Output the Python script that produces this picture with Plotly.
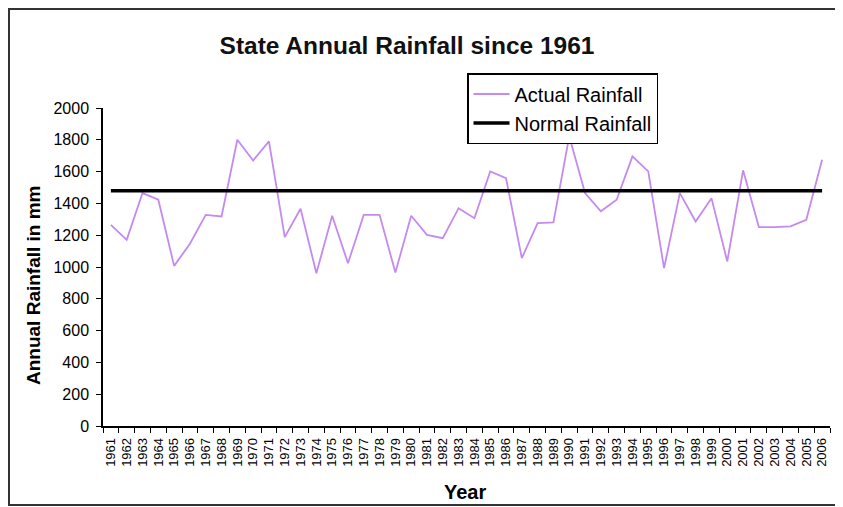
import plotly.graph_objects as go

years = [str(y) for y in range(1961, 2007)]
actual_rainfall = [1265, 1171, 1465, 1423, 1007, 1146, 1328, 1318, 1800, 1670,
                   1790, 1188, 1366, 961, 1322, 1024, 1328, 1328, 965, 1322,
                   1202, 1181, 1370, 1307, 1601, 1559, 1056, 1276, 1280, 1822,
                   1465, 1350, 1423, 1696, 1601, 993, 1465, 1286, 1433, 1035,
                   1608, 1251, 1251, 1255, 1297, 1675]
normal_value = 1480
normal_rainfall = [normal_value] * len(years)
y_ticks = list(range(0, 2001, 200))

# page body has an 8px margin; size the figure so it fills the window
OFF = 8
WIN_W, WIN_H = 843, 507
W, H = WIN_W - OFF, WIN_H - OFF
# plot area in window pixels: x 103..830, y 108..426
L, R, T, B = 103 - OFF, WIN_W - 830, 108 - OFF, WIN_H - 426
pw, ph = W - L - R, H - T - B

font_family = "Liberation Sans, Arial, sans-serif"


def px_x(px):  # window px -> paper x
    return (px - OFF - L) / pw


def px_y(py):  # window px -> paper y
    return (H - B - (py - OFF)) / ph


fig = go.Figure()
fig.add_trace(go.Scatter(x=years, y=actual_rainfall, mode="lines", name="Actual Rainfall",
                         line=dict(color="#c48af0", width=1.8)))
fig.add_trace(go.Scatter(x=years, y=normal_rainfall, mode="lines", name="Normal Rainfall",
                         line=dict(color="#000000", width=3.5)))

fig.add_shape(type="rect", xref="paper", yref="paper",
              x0=px_x(9), x1=px_x(837), y0=px_y(505), y1=px_y(9),
              line=dict(color="#333333", width=2), fillcolor="rgba(0,0,0,0)", layer="below")

fig.add_annotation(text="<b>Annual Rainfall in mm</b>", xref="paper", yref="paper",
                   x=px_x(33), y=px_y(285), xanchor="center", yanchor="middle",
                   textangle=-90, showarrow=False,
                   font=dict(size=19, family=font_family, color="#000000"))
fig.add_annotation(text="<b>Year</b>", xref="paper", yref="paper",
                   x=px_x(465), y=px_y(492), xanchor="center", yanchor="middle",
                   showarrow=False,
                   font=dict(size=20, family=font_family, color="#000000"))

fig.update_layout(
    width=W, height=H,
    margin=dict(l=L, r=R, t=T, b=B, autoexpand=False),
    paper_bgcolor="white", plot_bgcolor="white",
    font=dict(family=font_family, color="#000000"),
    title=dict(text="<b>State Annual Rainfall since 1961</b>", x=(407 - OFF) / W, xref="container",
               xanchor="center", y=1 - (45 - OFF) / H, yref="container", yanchor="middle",
               font=dict(size=24.5, family=font_family, color="#111111")),
    showlegend=True,
    legend=dict(x=px_x(467), y=px_y(73), xanchor="left", yanchor="top",
                bordercolor="#000000", borderwidth=1.5, bgcolor="white",
                font=dict(size=20, family=font_family), tracegroupgap=0,
                itemwidth=36),
    xaxis=dict(type="category", range=[-0.5, len(years) - 0.5], tickson="boundaries",
               tickmode="array", tickvals=years, ticktext=years,
               ticks="outside", ticklen=5, tickcolor="#000000", tickwidth=1.2,
               showline=True, linecolor="#000000", linewidth=1.5, showgrid=False,
               tickangle=-90, tickfont=dict(size=13, family=font_family),
               ticklabelstandoff=5, automargin=False,
               zeroline=False, fixedrange=True),
    yaxis=dict(range=[0, 2000], tickvals=y_ticks, ticks="outside", ticklen=5,
               tickcolor="#000000", tickwidth=1.2, showline=True, linecolor="#000000",
               linewidth=1.5, showgrid=False, zeroline=False,
               tickfont=dict(size=16, family=font_family),
               ticklabelstandoff=4, automargin=False,
               fixedrange=True),
)

fig.write_html("out.html")
